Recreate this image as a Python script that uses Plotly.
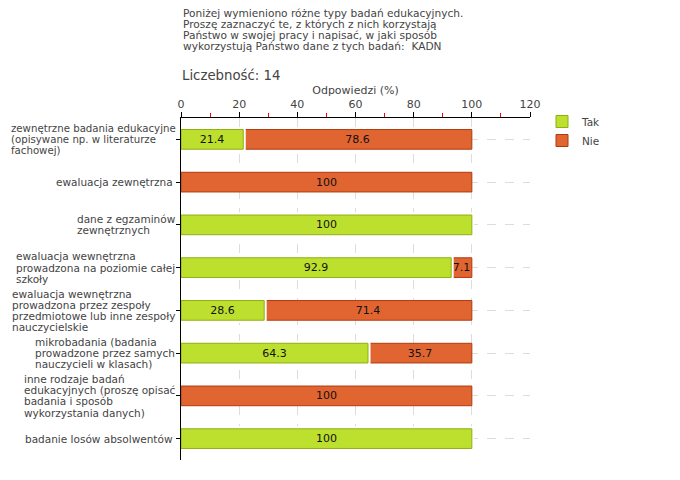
import plotly.graph_objects as go

categories = [
    "zewnętrzne badania edukacyjne<br>(opisywane np. w literaturze<br>fachowej)",
    "ewaluacja zewnętrzna ",
    "dane z egzaminów<br>zewnętrznych",
    "ewaluacja wewnętrzna<br>prowadzona na poziomie całej<br>szkoły",
    "ewaluacja wewnętrzna<br>prowadzona przez zespoły<br>przedmiotowe lub inne zespoły<br>nauczycielskie",
    "mikrobadania (badania<br>prowadzone przez samych<br>nauczycieli w klasach)",
    "inne rodzaje badań<br>edukacyjnych (proszę opisać<br>badania i sposób<br>wykorzystania danych)",
    "badanie losów absolwentów ",
]
tak = [21.4, 0, 100, 92.9, 28.6, 64.3, 0, 100]
nie = [78.6, 100, 0, 7.1, 71.4, 35.7, 100, 0]
x_ticks = [0, 20, 40, 60, 80, 100, 120]

title_lines = [
    "Poniżej wymieniono różne typy badań edukacyjnych.",
    "Proszę zaznaczyć te, z których z nich korzystają",
    "Państwo w swojej pracy i napisać, w jaki sposób",
    "wykorzystują Państwo dane z tych badań:  KADN",
]
count_text = "Liczebność: 14"

FONT = "DejaVu Sans"
TXT = "#444444"

# page has an 8px body margin; work in screen pixels
OFF = 8
PL, PR, PT, PB = 181, 530, 118, 460   # plot area on screen
PW, PH = PR - PL, PB - PT


def px(sx):
    return (sx - PL) / PW


def py(sy):
    return (PB - sy) / PH


# approximate DejaVu Sans advance widths (units of 1/2048 em)
W = {" ": 651, "(": 799, ")": 799, ",": 651, ".": 651, "-": 739,
     "a": 1255, "b": 1300, "c": 1126, "d": 1300, "e": 1260, "f": 721,
     "g": 1300, "h": 1298, "i": 569, "j": 569, "k": 1186, "l": 569,
     "m": 1995, "n": 1298, "o": 1253, "p": 1300, "q": 1300, "r": 842,
     "s": 1067, "t": 803, "u": 1298, "v": 1212, "w": 1675, "x": 1212,
     "y": 1212, "z": 1075, "ł": 600, "ą": 1255, "ć": 1126, "ę": 1260,
     "ń": 1298, "ó": 1253, "ś": 1067, "ź": 1075, "ż": 1075}


def text_w(s, size):
    return sum(W.get(ch, 1250) for ch in s) / 2048 * size


ids = list(range(len(categories)))


def nz(v):
    return [x if x > 0 else None for x in v]


def lbl(v):
    return [f"{x:g}" if x > 0 else "" for x in v]


BW = 0.46
TAK_FILL, TAK_LINE = "#bde02e", "#8fae12"
NIE_FILL, NIE_LINE = "#e06530", "#b03a10"

fig = go.Figure()
# "Nie" segments (drawn first)
fig.add_trace(go.Bar(
    name="Nie", y=ids, x=nz(nie), base=tak, orientation="h", width=BW,
    marker=dict(color=NIE_FILL, line=dict(color=NIE_LINE, width=1)),
    text=lbl(nie), textposition="inside", insidetextanchor="middle",
    textfont=dict(color="#111", size=11, family=FONT), constraintext="none",
    textangle=0, legendrank=2,
))
# white halo around "Tak" segments -> small gap between the two segments
fig.add_trace(go.Bar(
    name="Tak", y=ids, x=nz(tak), orientation="h", width=BW,
    marker=dict(color="white", line=dict(color="white", width=5)),
    showlegend=False, hoverinfo="skip",
))
fig.add_trace(go.Bar(
    name="Tak", y=ids, x=nz(tak), orientation="h", width=BW,
    marker=dict(color=TAK_FILL, line=dict(color=TAK_LINE, width=1)),
    text=lbl(tak), textposition="inside", insidetextanchor="middle",
    textfont=dict(color="#111", size=11, family=FONT), constraintext="none",
    textangle=0, legendrank=1,
))

# category labels: left-aligned blocks, right edge next to the axis
LSIZE = 10.5
LSP = 11.2
RIGHT = 174.5
MINLEFT = 9.5
for i, c in enumerate(categories):
    lines = c.split("<br>")
    wmax = max(text_w(s, LSIZE) for s in lines)
    size = LSIZE
    if RIGHT - wmax < MINLEFT:
        size = LSIZE * (RIGHT - MINLEFT) / wmax
        wmax = RIGHT - MINLEFT
    left = RIGHT - wmax
    n = len(lines)
    for k, s in enumerate(lines):
        fig.add_annotation(
            x=px(left), y=i, xref="paper", yref="y", text=s, showarrow=False,
            xanchor="left", yanchor="middle", align="left",
            yshift=-(k - (n - 1) / 2) * LSP, borderpad=0,
            font=dict(family=FONT, size=size, color=TXT),
        )

for k, s in enumerate(title_lines):
    fig.add_annotation(
        x=px(182), y=py(13.3 + 10.9 * k), xref="paper", yref="paper", text=s,
        showarrow=False, xanchor="left", yanchor="middle", align="left",
        borderpad=0, font=dict(family=FONT, size=10.6, color=TXT),
    )
fig.add_annotation(
    x=px(181), y=py(75.5), xref="paper", yref="paper", text=count_text,
    showarrow=False, xanchor="left", yanchor="middle", align="left",
    borderpad=0, font=dict(family=FONT, size=13.3, color=TXT),
)

fig.update_layout(
    width=680, height=480,
    margin=dict(l=PL - OFF, r=680 - (PR - OFF), t=PT - OFF, b=480 - (PB - OFF),
                autoexpand=False),
    paper_bgcolor="white", plot_bgcolor="white",
    barmode="overlay",
    font=dict(family=FONT, size=11, color=TXT),
    showlegend=True,
    legend=dict(x=px(542), y=py(107), xanchor="left", yanchor="top",
                font=dict(family=FONT, size=10.5, color=TXT),
                traceorder="normal", itemwidth=30, tracegroupgap=0,
                bgcolor="rgba(0,0,0,0)"),
    xaxis=dict(
        side="top", range=[0, 120], tickvals=x_ticks,
        ticks="outside", ticklen=5, tickcolor="black",
        showline=True, linecolor="black", linewidth=1,
        showgrid=True, gridcolor="#dddddd", griddash="dash",
        zeroline=False, layer="above traces",
        minor=dict(tickvals=[10, 30, 50, 70, 90, 110], ticks="outside",
                   ticklen=4, tickcolor="red", showgrid=False),
        title=dict(text="Odpowiedzi (%)", font=dict(size=11, color=TXT), standoff=0),
        tickfont=dict(size=11, color=TXT),
    ),
    yaxis=dict(
        range=[len(categories) - 0.5, -0.5], tickvals=ids, showticklabels=False,
        ticks="outside", ticklen=4, tickcolor="black",
        showline=True, linecolor="black", linewidth=1,
        showgrid=True, gridcolor="#dddddd", griddash="dash",
        zeroline=False, layer="above traces",
    ),
)

fig.write_html("out.html")
